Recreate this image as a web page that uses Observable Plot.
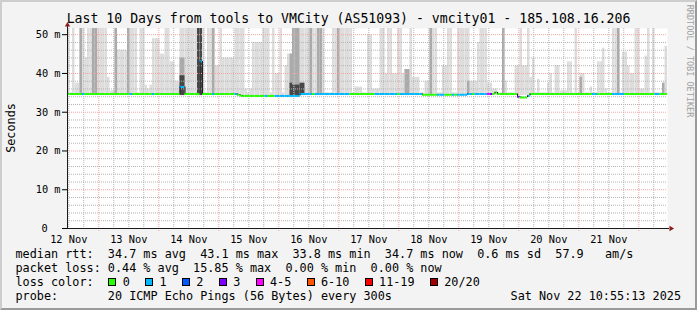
<!DOCTYPE html>
<html><head><meta charset="utf-8">
<script src="https://cdn.jsdelivr.net/npm/d3@7"></script>
<script src="https://cdn.jsdelivr.net/npm/@observablehq/plot@0.6"></script>
<style>
html,body{margin:0;padding:0;background:#f3f3f3}
#wrap{position:relative;width:697px;height:310px;background:#f3f3f3;overflow:hidden;font-family:"DejaVu Sans Mono",monospace;color:#000}
#chart{position:absolute;left:0;top:0}
#title{position:absolute;left:0;top:11.4px;width:697px;text-align:center;font-size:13.2px;line-height:16px;white-space:pre}
#ylab{position:absolute;left:-38.6px;top:120.5px;width:100px;height:14px;line-height:14px;font-size:11.8px;text-align:center;transform:rotate(-90deg)}
#zero{position:absolute;left:41.4px;top:221.9px;font-size:10.3px;line-height:12px;white-space:pre}
#mark{position:absolute;left:629.6px;top:56px;width:120px;height:10px;line-height:10px;font-size:8.5px;text-align:center;color:#a0a0a0;transform:rotate(90deg);white-space:pre}
#legend{position:absolute;left:15.5px;top:247.2px;font-size:11.8px;line-height:14px;white-space:pre}
#legend .row{height:14px}
#legend .box{display:inline-block;width:6px;height:6px;border:1px solid #000;vertical-align:baseline}
#frame{position:absolute;left:0;top:0;width:697px;height:310px;box-sizing:border-box;border-top:2px solid #cdcdcd;border-left:2px solid #cdcdcd;border-right:2px solid #9a9a9a;border-bottom:2px solid #9a9a9a;pointer-events:none}
</style></head>
<body>
<div id="wrap">
  <div id="chart"></div>
  <div id="title"></div>
  <div id="ylab">Seconds</div>
  <div id="zero"></div>
  <div id="mark">RRDTOOL / TOBI OETIKER</div>
  <div id="legend"></div>
  <div id="frame"></div>
</div>
<script>
const titleText = "Last 10 Days from tools to VMCity (AS51093) - vmcity01 - 185.108.16.206";
const dayLabels = ["12 Nov","13 Nov","14 Nov","15 Nov","16 Nov","17 Nov","18 Nov","19 Nov","20 Nov","21 Nov"];
const labelHours = [0.5,24.5,48.5,72.5,96.5,120.5,144.5,168.5,192.5,216.5];
const majorHours = [12.5,36.5,60.5,84.5,108.5,132.5,156.5,180.5,204.5,228.5];
const yTicks = [0,10,20,30,40,50];
const yTickLabels = ["0","10 m","20 m","30 m","40 m","50 m"];
const yMax = 51.6, xMax = 240;
const smokeFloor = 34.3;

// hourly median rtt (ms)
const median = [
34.7,34.7,34.7,34.7,34.7,34.7,34.7,34.7,34.7,34.7,
34.7,34.7,34.7,34.7,34.7,34.7,34.7,34.7,34.7,34.7,
34.7,34.7,34.7,34.7,34.7,34.7,34.7,34.7,34.7,34.7,
34.7,34.7,34.7,34.7,34.7,34.7,34.7,34.7,34.7,34.7,
34.7,34.7,34.7,34.7,34.7,36.5,36.5,34.7,34.7,34.7,
34.7,34.7,34.7,43.1,34.7,34.7,34.7,34.7,34.7,34.7,
34.7,34.7,34.7,34.7,34.7,34.7,34.7,34.7,34.5,34.3,
34.2,34.2,34.2,34.2,34.2,34.2,34.2,34.2,34.2,34.2,
34.2,34.2,34.2,34.2,34.2,34.2,34.2,34.2,34.2,34.2,
34.2,34.2,34.2,34.7,34.7,34.7,34.7,34.7,34.7,34.7,
34.7,34.7,34.7,34.7,34.7,34.7,34.7,34.7,34.7,34.7,
34.7,34.7,34.7,34.7,34.7,34.7,34.7,34.7,34.7,34.7,
34.7,34.7,34.7,34.7,34.7,34.7,34.7,34.7,34.7,34.7,
34.7,34.7,34.7,34.7,34.7,34.7,34.7,34.7,34.7,34.7,
34.7,34.7,34.5,34.5,34.5,34.5,34.5,34.5,34.5,34.5,
34.5,34.5,34.5,34.5,34.5,34.5,34.5,34.5,34.5,34.5,
34.7,34.7,34.7,34.7,34.7,34.7,34.7,34.7,34.7,34.7,
34.7,35.1,34.7,34.7,34.7,34.7,34.7,34.7,34.7,34.7,
34.0,33.8,33.8,33.8,34.2,34.7,34.7,34.7,34.7,34.7,
34.7,34.7,34.7,34.7,34.7,34.7,34.7,34.7,34.7,34.7,
34.7,34.7,34.7,34.7,34.7,34.7,34.7,34.7,34.7,34.7,
34.7,34.7,34.7,34.7,34.7,34.7,34.7,34.7,34.7,34.7,
34.7,34.7,34.7,34.7,34.7,34.7,34.7,34.7,34.7,34.7,
34.7,34.7,34.7,34.7,34.7,34.7,34.7,34.7,34.7,34.7];

// hourly lost pings (of 20)
const loss = [
0,0,0,0,0,0,1,0,0,0, 0,0,0,0,0,0,0,0,0,0, 0,0,0,0,0,1,0,0,0,0, 0,0,0,0,1,0,0,0,0,0,
0,0,0,0,0,1,1,0,0,0, 0,0,0,1,0,0,0,0,1,0, 0,0,0,0,0,0,0,1,0,0, 0,0,0,0,0,0,0,0,0,1,
0,0,0,1,1,1,1,1,1,1, 1,1,1,1,1,1,1,1,0,1, 1,1,1,1,1,1,1,1,1,1, 1,1,1,0,0,0,0,0,0,0,
0,0,0,1,1,1,1,1,1,1, 1,1,0,1,1,1,1,1,1,1, 1,1,0,0,0,0,0,0,1,1, 1,0,0,0,1,0,1,1,1,1,
1,1,0,1,1,1,1,1,4,3, 0,0,0,0,0,0,0,0,0,0, 3,0,0,0,1,0,0,0,0,0, 0,0,0,0,0,0,0,0,0,0,
0,0,0,0,0,0,0,0,0,0, 1,1,0,0,0,0,0,0,1,1, 1,1,1,0,0,0,0,0,0,0, 0,0,0,0,0,1,1,0,0,0];

// hourly top of the light smoke (highest ping, ms; >51.6 is off scale)
const smokeHi = [
52,35,52,37.5,37.5,52,52,44,52,52,
52,52,52,52,52,52,39,35.5,35.5,52,
46,46,46,46,52,52,52,52,35,52,
52,37,36,37,49,49,49,45,45,52,
52,43,43,38,38,52,52,52,52,52,
52,52,52,52,52,35,52,52,52,42,
42,52,44,44,44,44,44,52,52,52,
52,36,35,36,48,48,48,48,52,52,
52,35,52,40,40,52,35,42,45,45,
52,52,52,52,52,52,52,52,52,52,
52,52,52,35,35,35,52,52,52,52,
52,52,52,52,35,36.5,36.5,36.5,35,35,
50,50,36,36,36,52,52,40,52,52,
40,40,52,52,40,41,41,52,39,39,
39,35,35,38,38,52,52,52,35,35,
42,42,52,52,35,35,52,52,52,52,
52,38,38,38,48,52,52,52,37.5,37.5,
36,36,35,35,52,38,35,35,35,42,
42,52,42,42,52,39,44,35,38.5,35,
35,35,37.5,40,35,42,42,35.5,35.5,35.5,
43,43,35,52,35,40,40,35,35,36.5,
35,35,43,43,46.5,36,35,35,52,52,
52,35,45.5,45.5,42,40,40,52,52,36,
36,44.5,52,35,52,35,35,35,37.5,47];

// denser smoke (many pings high)
const midHours = [5,10,11,19,24,45,46,58,89,90,91,92,97,100,101,108,135,136,145,160,174,205,220,238];
const midTops  = [52,52,52,52,52,44,44,52,45,52,52,52,52,52,52,52,41,41,52,38,52,39,52,37.5];
const darkHours = [45,46,52,53,89,90,91,92,93,94];
const darkTops  = [39.4,39.4,52,52,37.5,37,37,37,37.5,37.5];

const lossLabels = ["0","1","2","3","4-5","6-10","11-19","20/20"];
const lossColors = ["#26ff00","#00b8ff","#0059ff","#7e00ff","#ff00ff","#ff5500","#ff0000","#a10000"];
const legendLines = [
  "median rtt:  34.7 ms avg  43.1 ms max  33.8 ms min  34.7 ms now  0.6 ms sd  57.9   am/s",
  "packet loss: 0.44 % avg  15.85 % max  0.00 % min  0.00 % now"
];
const probeText = "probe:       20 ICMP Echo Pings (56 Bytes) every 300s";
const dateText = "Sat Nov 22 10:55:13 2025";

function lossClass(n){ return n===0?0:n===1?1:n===2?2:n===3?3:n<=5?4:n<=10?5:n<20?6:7; }

const hours = median.map((m,h)=>({h, h1:h+1, med:m, hi:smokeHi[h], color:lossColors[lossClass(loss[h])]}));
const steps = hours.filter((d,i)=>i>0 && d.med!==hours[i-1].med).map(d=>({h:d.h, prev:hours[d.h-1].med, med:d.med}));
const mids = midHours.map((h,i)=>({h, h1:h+1, top:midTops[i]}));
const darks = darkHours.map((h,i)=>({h, h1:h+1, top:darkTops[i]}));
const minorX = d3.range(0.5, xMax, 6).filter(h=>!majorHours.includes(h));
const minorY = d3.range(2, yMax, 2).filter(v=>v%10!==0);
const majorY = yTicks.filter(v=>v>0);
const yLabelData = yTicks.map((v,i)=>({v, label:yTickLabels[i]})).filter(d=>d.v>0);

const plot = Plot.plot({
  width: 697, height: 250,
  marginLeft: 67, marginRight: 30, marginTop: 28, marginBottom: 22,
  style: {background:"transparent", fontFamily:"'DejaVu Sans Mono', monospace", fontSize:"10.3px", color:"#000", overflow:"visible"},
  x: {domain:[0,xMax], ticks: labelHours, tickFormat: d=>dayLabels[labelHours.indexOf(d)], tickSize:0, tickPadding:7, label:null},
  y: {domain:[0,yMax], ticks: yTicks, tickFormat: ()=>"", tickSize:5, tickPadding:2, label:null},
  marks: [
    Plot.frame({fill:"#ffffff", stroke:"none"}),
    Plot.rectY(hours.filter(d=>d.hi>smokeFloor), {x1:"h", x2:"h1", y1:()=>smokeFloor, y2:"hi", fill:"#dddddd", clip:true}),
    Plot.rectY(mids, {x1:"h", x2:"h1", y1:()=>smokeFloor, y2:"top", fill:"#aaaaaa", clip:true}),
    Plot.rectY(darks, {x1:"h", x2:"h1", y1:()=>smokeFloor, y2:"top", fill:"#474747", clip:true}),
    Plot.ruleX(minorX, {stroke:"#b4b4b4", strokeDasharray:"1,1"}),
    Plot.ruleY(minorY, {stroke:"#b4b4b4", strokeDasharray:"1,1"}),
    Plot.ruleX(majorHours, {stroke:"#f4a4a4", strokeDasharray:"1,1", insetBottom:-3}),
    Plot.ruleY(majorY, {stroke:"#f4a4a4", strokeDasharray:"1,1"}),
    Plot.ruleY(hours, {y:"med", x1:"h", x2:"h1", stroke:"color", strokeWidth:2}),
    Plot.ruleX(steps, {x:"h", y1:"prev", y2:"med", stroke:"#222", strokeWidth:1}),
    Plot.ruleX([0], {stroke:"#1a1a1a", insetTop:-3, shapeRendering:"crispEdges"}),
    Plot.ruleY([0], {stroke:"#1a1a1a", insetRight:-2, shapeRendering:"crispEdges"}),
    Plot.text(yLabelData, {y:"v", text:"label", frameAnchor:"left", textAnchor:"end", dx:-7}),
    Plot.dot([{x:0, y:yMax}], {x:"x", y:"y", symbol:"triangle", r:2, fill:"#8b1c1c", stroke:"none", dy:-3.5}),
    Plot.dot([{x:xMax, y:0}], {x:"x", y:"y", symbol:"triangle", r:2, fill:"#8b1c1c", stroke:"none", rotate:90, dx:3.5})
  ]
});
document.getElementById("chart").appendChild(plot);
document.getElementById("title").textContent = titleText;
document.getElementById("zero").textContent = yTickLabels[0];

const legend = document.getElementById("legend");
legendLines.forEach(t=>{ const r=document.createElement("div"); r.className="row"; r.textContent=t; legend.appendChild(r); });
const lr = document.createElement("div"); lr.className="row";
const lt = document.createElement("span"); lt.textContent="loss color:  "; lr.appendChild(lt);
lossLabels.forEach((lab,i)=>{
  const b=document.createElement("span"); b.className="box"; b.style.background=lossColors[i]; b.style.marginLeft = i===0?"0.5px":"15.3px"; lr.appendChild(b);
  const s=document.createElement("span"); s.textContent=lab; s.style.marginLeft="6.4px"; lr.appendChild(s);
});
legend.appendChild(lr);
const pr = document.createElement("div"); pr.className="row"; pr.style.display="flex"; pr.style.justifyContent="space-between"; pr.style.width="665.5px";
const p1=document.createElement("span"); p1.textContent=probeText; const p2=document.createElement("span"); p2.textContent=dateText;
pr.appendChild(p1); pr.appendChild(p2); legend.appendChild(pr);
</script>
</body></html>
